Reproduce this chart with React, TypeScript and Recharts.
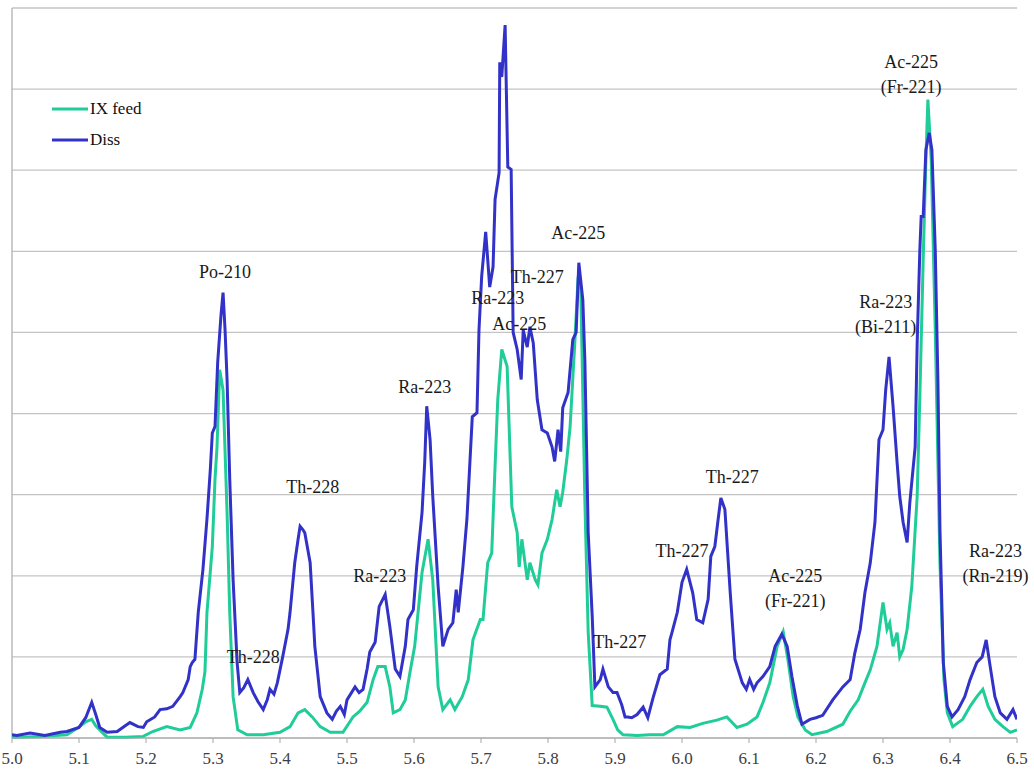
import {
  CartesianGrid,
  Line,
  LineChart,
  ReferenceDot,
  ReferenceLine,
  XAxis,
  YAxis,
} from 'recharts'

// alpha energy (MeV) and counts
const dissEnergy = [
  5.0, 5.007, 5.027, 5.049, 5.072, 5.082, 5.1, 5.11, 5.119, 5.125, 5.131, 5.142, 5.157, 5.169,
  5.176, 5.188, 5.196, 5.201, 5.213, 5.221, 5.231, 5.24, 5.251, 5.255, 5.263, 5.266, 5.269,
  5.273, 5.278, 5.285, 5.291, 5.296, 5.299, 5.303, 5.307, 5.312, 5.315, 5.318, 5.321, 5.325,
  5.33, 5.336, 5.34, 5.346, 5.352, 5.36, 5.367, 5.375, 5.381, 5.385, 5.391, 5.396, 5.404,
  5.412, 5.415, 5.422, 5.427, 5.43, 5.434, 5.437, 5.445, 5.449, 5.452, 5.46, 5.47, 5.478,
  5.484, 5.49, 5.496, 5.5, 5.512, 5.518, 5.524, 5.53, 5.534, 5.542, 5.548, 5.557, 5.564,
  5.572, 5.579, 5.587, 5.591, 5.599, 5.604, 5.612, 5.616, 5.619, 5.624, 5.628, 5.636, 5.643,
  5.651, 5.658, 5.663, 5.666, 5.673, 5.679, 5.687, 5.694, 5.697, 5.701, 5.707, 5.713, 5.718,
  5.721, 5.727, 5.728, 5.731, 5.736, 5.74, 5.745, 5.748, 5.754, 5.76, 5.763, 5.769, 5.773,
  5.778, 5.784, 5.791, 5.799, 5.806, 5.81, 5.815, 5.819, 5.822, 5.83, 5.837, 5.842, 5.846,
  5.852, 5.855, 5.86, 5.866, 5.87, 5.878, 5.882, 5.89, 5.897, 5.903, 5.91, 5.915, 5.919,
  5.925, 5.933, 5.942, 5.949, 5.957, 5.967, 5.978, 5.982, 5.985, 5.993, 6.0, 6.007, 6.012,
  6.016, 6.022, 6.031, 6.039, 6.043, 6.049, 6.054, 6.058, 6.064, 6.072, 6.079, 6.09, 6.096,
  6.101, 6.107, 6.112, 6.121, 6.131, 6.139, 6.149, 6.157, 6.164, 6.172, 6.179, 6.191, 6.2,
  6.21, 6.225, 6.24, 6.251, 6.258, 6.266, 6.273, 6.281, 6.288, 6.294, 6.3, 6.304, 6.309,
  6.315, 6.321, 6.325, 6.33, 6.336, 6.34, 6.348, 6.351, 6.355, 6.357, 6.36, 6.364, 6.369,
  6.373, 6.378, 6.382, 6.385, 6.39, 6.396, 6.403, 6.412, 6.422, 6.43, 6.44, 6.448, 6.454,
  6.46, 6.467, 6.475, 6.485, 6.494, 6.5,
]
const dissCounts = [
  4, 3, 6, 3, 7, 8, 13, 25, 44, 29, 13, 7, 8, 15,
  19, 14, 13, 20, 26, 35, 36, 39, 51, 56, 72, 88, 93,
  97, 155, 208, 270, 331, 376, 384, 463, 522, 549, 503, 442, 319,
  195, 93, 56, 62, 72, 56, 45, 35, 47, 60, 54, 68, 100,
  134, 155, 216, 245, 261, 257, 253, 216, 158, 113, 51, 31, 23,
  33, 39, 29, 47, 63, 56, 60, 85, 106, 118, 162, 177, 137,
  85, 76, 113, 146, 158, 211, 278, 340, 409, 368, 298, 187, 113,
  134, 142, 183, 155, 211, 270, 396, 401, 503, 569, 624, 556, 581,
  664, 697, 833, 815, 879, 704, 701, 500, 479, 442, 503, 482, 507,
  487, 417, 380, 376, 359, 341, 380, 353, 407, 426, 491, 500, 586,
  540, 466, 253, 150, 63, 72, 85, 63, 56, 56, 41, 26, 26,
  25, 29, 38, 25, 50, 78, 85, 121, 130, 155, 192, 208, 192,
  179, 146, 142, 171, 224, 236, 270, 296, 282, 179, 97, 68, 60,
  72, 60, 68, 76, 88, 113, 128, 113, 76, 40, 17, 23, 25,
  28, 47, 63, 72, 105, 134, 179, 216, 266, 368, 380, 429, 470,
  409, 340, 298, 266, 241, 290, 359, 487, 602, 643, 643, 725, 746,
  725, 602, 438, 257, 93, 39, 26, 35, 51, 72, 93, 100, 121,
  88, 51, 31, 23, 35, 23,
]

const feedEnergy = [
  5.0, 5.007, 5.042, 5.082, 5.101, 5.11, 5.119, 5.125, 5.131, 5.142, 5.169, 5.196, 5.21,
  5.231, 5.251, 5.266, 5.276, 5.284, 5.288, 5.291, 5.299, 5.303, 5.306, 5.31, 5.315, 5.321,
  5.325, 5.33, 5.337, 5.351, 5.375, 5.4, 5.415, 5.427, 5.437, 5.448, 5.46, 5.475, 5.494,
  5.509, 5.519, 5.53, 5.539, 5.546, 5.557, 5.564, 5.569, 5.579, 5.587, 5.594, 5.601, 5.612,
  5.621, 5.628, 5.636, 5.643, 5.654, 5.661, 5.672, 5.681, 5.688, 5.699, 5.703, 5.71, 5.716,
  5.721, 5.725, 5.731, 5.739, 5.746, 5.754, 5.757, 5.761, 5.769, 5.773, 5.781, 5.785, 5.791,
  5.799, 5.806, 5.813, 5.818, 5.822, 5.828, 5.833, 5.84, 5.845, 5.849, 5.855, 5.86, 5.866,
  5.878, 5.888, 5.897, 5.904, 5.912, 5.933, 5.952, 5.972, 5.993, 6.012, 6.031, 6.052, 6.067,
  6.082, 6.097, 6.112, 6.121, 6.131, 6.142, 6.151, 6.158, 6.166, 6.173, 6.184, 6.194, 6.216,
  6.24, 6.251, 6.263, 6.273, 6.281, 6.291, 6.3, 6.306, 6.31, 6.315, 6.321, 6.325, 6.33,
  6.336, 6.343, 6.351, 6.355, 6.36, 6.364, 6.367, 6.372, 6.378, 6.385, 6.391, 6.396, 6.404,
  6.419, 6.43, 6.44, 6.449, 6.457, 6.467, 6.479, 6.49, 6.5,
]
const feedCounts = [
  1, 1, 2, 4, 14, 20, 23, 15, 10, 1, 1, 2, 8,
  14, 10, 13, 31, 60, 82, 155, 236, 319, 359, 454, 429, 278,
  155, 51, 10, 4, 4, 7, 14, 31, 35, 26, 14, 7, 7,
  26, 33, 44, 72, 88, 88, 63, 31, 35, 47, 81, 113, 204,
  245, 195, 63, 35, 47, 35, 51, 72, 121, 146, 146, 216, 228,
  335, 417, 479, 458, 285, 253, 211, 245, 195, 216, 195, 189, 228,
  245, 269, 306, 285, 303, 343, 384, 487, 569, 553, 294, 130, 40,
  39, 38, 23, 10, 4, 3, 4, 4, 14, 13, 18, 22, 26,
  13, 17, 26, 44, 68, 113, 131, 97, 51, 26, 10, 4, 8,
  17, 33, 47, 68, 84, 113, 167, 134, 142, 113, 130, 100, 109,
  134, 187, 298, 421, 590, 713, 787, 713, 503, 216, 72, 31, 14,
  23, 39, 51, 60, 39, 23, 14, 7, 10,
]

const energyTicks = [5.0, 5.1, 5.2, 5.3, 5.4, 5.5, 5.6, 5.7, 5.8, 5.9, 6.0, 6.1, 6.2, 6.3, 6.4, 6.5]
const countTicks = [0, 100, 200, 300, 400, 500, 600, 700, 800, 900]

// peak labels: text lines, energy, count
const peakLabels = [
  ['Po-210'],
  ['Th-228'],
  ['Th-228'],
  ['Ra-223'],
  ['Ra-223'],
  ['Ra-223'],
  ['Ac-225'],
  ['Th-227'],
  ['Ac-225'],
  ['Th-227'],
  ['Th-227'],
  ['Th-227'],
  ['Ac-225', '(Fr-221)'],
  ['Ra-223', '(Bi-211)'],
  ['Ac-225', '(Fr-221)'],
  ['Ra-223', '(Rn-219)'],
]
const peakEnergy = [
  5.318, 5.36, 5.449, 5.549, 5.616, 5.725, 5.757, 5.784, 5.845, 5.907, 6.0, 6.075, 6.169,
  6.304, 6.342, 6.468,
]
const peakCounts = [574, 100, 310, 200, 433, 543, 510, 568, 623, 118, 231, 322, 200, 537, 834, 230]

const FONT = '"Liberation Serif", "Times New Roman", serif'
const FEED_COLOR = '#20cc98'
const DISS_COLOR = '#3232c8'

const dissData = dissEnergy.map((e, i) => ({ e, v: dissCounts[i] }))
const feedData = feedEnergy.map((e, i) => ({ e, v: feedCounts[i] }))

function LegendBox() {
  const items = [
    { name: 'IX feed', color: FEED_COLOR },
    { name: 'Diss', color: DISS_COLOR },
  ]
  return (
    <div
      style={{
        position: 'absolute',
        left: 52,
        top: 93,
        fontFamily: FONT,
        fontSize: 17,
        color: '#111',
      }}
    >
      {items.map((it) => (
        <div key={it.name} style={{ display: 'flex', alignItems: 'center', height: 31 }}>
          <svg width={36} height={6}>
            <line x1={0} y1={3} x2={36} y2={3} stroke={it.color} strokeWidth={3} />
          </svg>
          <span style={{ marginLeft: 2 }}>{it.name}</span>
        </div>
      ))}
    </div>
  )
}

export default function App() {
  return (
    <div style={{ position: 'absolute', left: 0, top: 0, width: 1034, height: 782, background: '#fff' }}>
      <LineChart
        width={1034}
        height={782}
        margin={{ top: 8, right: 17, bottom: 13, left: 12 }}
      >
        <CartesianGrid
          vertical={false}
          horizontalValues={countTicks}
          stroke="#c4c4c4"
          strokeWidth={1.3}
        />
        <XAxis
          type="number"
          dataKey="e"
          domain={[5.0, 6.5]}
          ticks={energyTicks}
          tickFormatter={(v: number) => v.toFixed(1)}
          allowDataOverflow
          height={31}
          tickSize={5}
          tickMargin={9}
          stroke="#a6a6a6"
          tick={{ fontFamily: FONT, fontSize: 17, fill: '#404040' }}
        />
        <YAxis type="number" domain={[0, 900]} ticks={countTicks} hide />
        <ReferenceLine x={5.0} stroke="#b0b0b0" strokeWidth={1.3} />
        <Line
          data={feedData}
          dataKey="v"
          name="IX feed"
          type="linear"
          stroke={FEED_COLOR}
          strokeWidth={3}
          dot={false}
          isAnimationActive={false}
        />
        <Line
          data={dissData}
          dataKey="v"
          name="Diss"
          type="linear"
          stroke={DISS_COLOR}
          strokeWidth={3}
          dot={false}
          isAnimationActive={false}
        />
        {peakLabels.map((lines, i) => (
          <ReferenceDot
            key={i}
            x={peakEnergy[i]}
            y={peakCounts[i]}
            r={0}
            ifOverflow="visible"
            shape={(p: { cx?: number; cy?: number }) => (
              <text
                x={p.cx}
                y={p.cy}
                textAnchor="middle"
                dominantBaseline="central"
                fontFamily={FONT}
                fontSize={18}
                fill="#1a1a1a"
              >
                {lines.map((t, k) => (
                  <tspan key={k} x={p.cx} dy={k === 0 ? 0 : 25}>
                    {t}
                  </tspan>
                ))}
              </text>
            )}
          />
        ))}
      </LineChart>
      <LegendBox />
    </div>
  )
}
